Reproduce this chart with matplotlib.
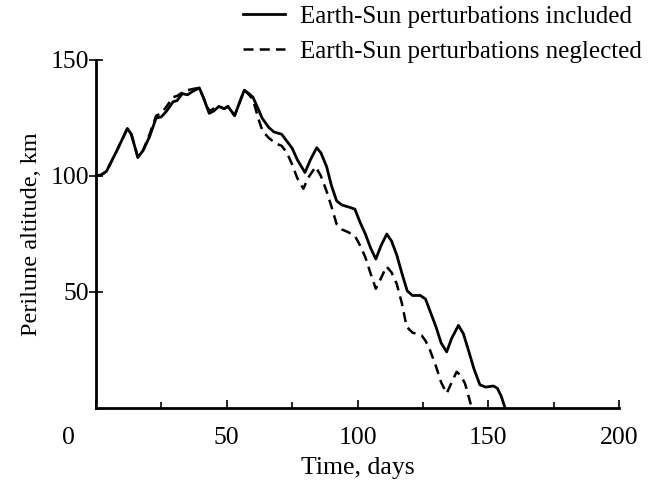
import matplotlib
matplotlib.use("Agg")
from matplotlib import pyplot as plt
from matplotlib.transforms import ScaledTranslation

# Earth-Sun perturbations included (solid)
days_incl = [0, 2, 4, 8, 12, 13.5, 16, 18, 20.5, 23, 25, 27, 29.5, 31, 33, 35, 37, 39.5,
             41, 43.3, 45, 47, 49, 50.5, 53, 55, 56.7, 58.5, 60, 62, 63.5, 66, 68, 71, 73,
             75, 77, 79.9, 82, 84.4, 86, 88.2, 90, 92, 94, 97, 99, 101, 103, 105, 107, 109,
             111.2, 113, 115, 117, 119, 121, 124, 126, 128, 130, 132, 134.1, 136, 138.6,
             140.5, 142.4, 144.5, 146.8, 149, 152, 153.5, 155, 156.4]
alt_incl = [100, 100.5, 102, 111, 120.5, 118, 108, 111, 117, 125, 125.5, 128, 132, 132.5,
            135.5, 135, 136.5, 138, 134, 127, 128, 130, 129, 130, 126, 132, 137, 135.5, 134,
            129, 125, 121, 119, 118, 115, 112, 107, 101.5, 107, 112.2, 110, 104, 96, 89.3,
            87.5, 86.5, 85.7, 80, 75, 69, 64.2, 70, 75, 72, 66, 58, 50.5, 48.5, 48.5, 47,
            41, 35, 28, 24.2, 30, 35.6, 32, 25, 17, 10, 9, 9.5, 8.5, 5, 0]

# Earth-Sun perturbations neglected (dashed)
days_negl = [0, 2, 4, 8, 12, 13.5, 16, 18, 20.5, 23, 25, 27, 29.5, 31, 33, 35, 37, 39.5,
             41, 43.3, 45, 47, 49, 50.5, 53, 55, 56.7, 58.5, 60, 62, 63.7, 66, 68.8, 71, 73,
             75, 77, 79.3, 81, 84, 86, 88, 90, 92, 94, 96.4, 99, 101, 103, 105, 107, 109,
             111.1, 113, 115, 117, 118.8, 121, 124.5, 126, 127.7, 130, 132, 134.1, 136,
             137.9, 139.5, 141.1, 142.5, 143.7]
alt_negl = [100, 100.5, 102, 111, 120.5, 118, 108, 111, 118, 126, 127, 130, 134, 134.5,
            136, 137, 137.5, 138, 134, 128, 129, 130, 129, 130, 126, 132, 137, 135, 133,
            125, 119.3, 116.5, 114, 113, 110, 105, 99, 94.5, 99, 104, 100, 94, 87, 79.3,
            77, 75.8, 74.2, 70, 65, 58, 51.4, 56, 61, 58.5, 53.5, 45, 35, 32.5, 31.3, 29,
            25, 18, 11, 6.3, 11, 15.6, 14, 10.6, 5, 0]

xticks = [0, 50, 100, 150, 200]
yticks = [50, 100, 150]

plt.rcParams["font.family"] = ["Liberation Serif", "DejaVu Serif"]

fig = plt.figure(figsize=(6.51, 4.82), dpi=100)
ax = fig.add_axes([96 / 651, 1 - 408 / 482, 523 / 651, 348 / 482])

ax.plot(days_incl, alt_incl, color="black", lw=2.0,
        label="Earth-Sun perturbations included")
ax.plot(days_negl, alt_negl, color="black", lw=1.8, ls=(0, (4, 2.5)),
        label="Earth-Sun perturbations neglected")

ax.set_xlim(0, 200)
ax.set_ylim(0, 150)
ax.set_xticks(xticks)
ax.set_yticks(yticks)
ax.set_xticks([25, 75, 125, 175], minor=True)
ax.tick_params(axis="x", which="both", direction="in", length=6, width=1.2,
               labelsize=18.5, pad=14)
ax.tick_params(axis="x", which="minor", length=4)
ax.tick_params(axis="y", direction="inout", length=10, width=1.2, labelsize=18.5, pad=0)

for s in ["top", "right"]:
    ax.spines[s].set_visible(False)
for s in ["left", "bottom"]:
    ax.spines[s].set_linewidth(2.0)

# shared origin label sits left of the corner
lbl = ax.get_xticklabels()[0]
lbl.set_transform(lbl.get_transform() + ScaledTranslation(-0.28, 0, fig.dpi_scale_trans))

ax.set_xlabel("Time, days", fontsize=18.5)
ax.xaxis.set_label_coords(0.5, -0.14)
ax.set_ylabel("Perilune altitude, km", fontsize=17.5, labelpad=6)

fig.legend(loc="upper right", bbox_to_anchor=(1.02, 1.035), frameon=False,
           fontsize=18, handlelength=1.65, handletextpad=0.6, labelspacing=0.5)

fig.savefig("out.png", dpi=100)
